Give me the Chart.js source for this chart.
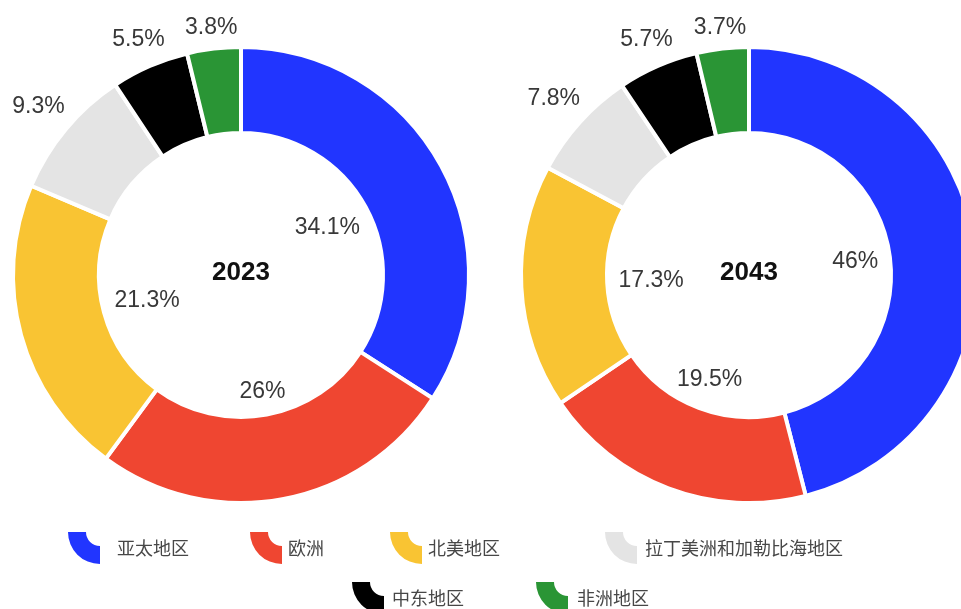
<!DOCTYPE html>
<html><head><meta charset="utf-8">
<script src="https://cdn.jsdelivr.net/npm/chart.js@4/dist/chart.umd.min.js"></script>
<style>
html,body{margin:0;padding:0;background:#fff;overflow:hidden;width:961px;height:609px;position:relative;}
#c1{position:absolute;left:0;top:0;}
#c2{position:absolute;left:509px;top:0;}
</style></head><body>
<canvas id="c1" width="961" height="609"></canvas>
<canvas id="c2" width="500" height="609"></canvas>
<script>
const categories = ['亚太地区','欧洲','北美地区','拉丁美洲和加勒比海地区','中东地区','非洲地区'];
const values2023 = [34.1, 26, 21.3, 9.3, 5.5, 3.8];
const values2043 = [46, 19.5, 17.3, 7.8, 5.7, 3.7];
const years = ['2023', '2043'];
const colors = ['#2135FF','#EF4631','#F9C433','#E4E4E4','#000000','#2A9535'];

const BW = 4;

const labelPlugin = {
  id: 'sliceLabels',
  afterDatasetsDraw(chart, args, opts) {
    const ctx = chart.ctx;
    const meta = chart.getDatasetMeta(0);
    const ds = chart.data.datasets[0];
    ctx.save();
    ctx.font = '23px "Liberation Sans", Arial, sans-serif';
    ctx.fillStyle = '#383838';
    ctx.textAlign = 'center';
    ctx.textBaseline = 'middle';
    meta.data.forEach((arc, i) => {
      const v = ds.data[i];
      const txt = v + '%';
      const mid = (arc.startAngle + arc.endAngle) / 2;
      const ux = Math.cos(mid), uy = Math.sin(mid);
      const w = ctx.measureText(txt).width, h = 17;
      const e = Math.abs(ux) * w / 2 + Math.abs(uy) * h / 2;
      let r;
      if (v >= 10) r = arc.innerRadius + BW / 2 - 13 - e;
      else r = arc.outerRadius - BW / 2 + 12 + e;
      ctx.fillText(txt, arc.x + ux * r, arc.y + uy * r);
    });
    ctx.font = 'bold 26px "Liberation Sans", Arial, sans-serif';
    ctx.fillStyle = '#111111';
    ctx.fillText(opts.title, meta.data[0].x, meta.data[0].y - 2);
    ctx.restore();
  }
};

const legendLayout = [
  {icon: [68, 532], text: 117},
  {icon: [250, 532], text: 288},
  {icon: [390, 532], text: 428},
  {icon: [605, 532], text: 645},
  {icon: [352, 582], text: 392},
  {icon: [536, 582], text: 577}
];

const legendPlugin = {
  id: 'quarterLegend',
  afterDraw(chart, args, opts) {
    if (!opts.show) return;
    const ctx = chart.ctx;
    ctx.save();
    ctx.font = '18px "Noto Sans CJK SC", sans-serif';
    ctx.textAlign = 'left';
    ctx.textBaseline = 'middle';
    categories.forEach((name, i) => {
      const L = legendLayout[i];
      const R = 32, r = 14;
      const cx = L.icon[0] + R, cy = L.icon[1];
      ctx.beginPath();
      ctx.arc(cx, cy, R, Math.PI / 2, Math.PI);
      ctx.arc(cx, cy, r, Math.PI, Math.PI / 2, true);
      ctx.closePath();
      ctx.fillStyle = colors[i];
      ctx.fill();
      ctx.fillStyle = '#474747';
      ctx.fillText(name, L.text, cy + 16);
    });
    ctx.restore();
  }
};

function makeChart(id, values, title, pad, showLegend) {
  return new Chart(document.getElementById(id), {
    type: 'doughnut',
    data: {
      labels: categories,
      datasets: [{
        data: values,
        backgroundColor: colors,
        borderColor: '#ffffff',
        borderWidth: BW,
        hoverOffset: 0
      }]
    },
    options: {
      responsive: false,
      animation: false,
      cutout: 142,
      layout: {padding: pad},
      plugins: {
        legend: {display: false},
        tooltip: {enabled: false},
        sliceLabels: {title: title},
        quarterLegend: {show: showLegend}
      }
    },
    plugins: [labelPlugin, legendPlugin]
  });
}

makeChart('c1', values2023, years[0], {left: 11, right: 490, top: 45, bottom: 104}, true);
makeChart('c2', values2043, years[1], {left: 10, right: 30, top: 45, bottom: 104}, false);
</script>
</body></html>
